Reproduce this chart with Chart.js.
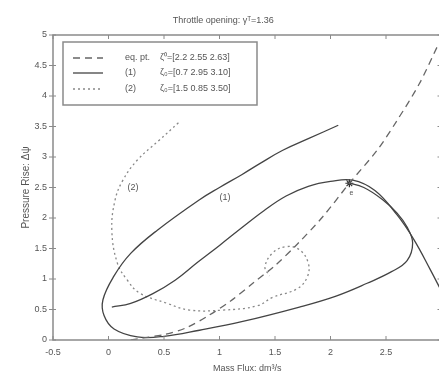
<!DOCTYPE html>
<html><head><meta charset="utf-8">
<script src="https://cdn.jsdelivr.net/npm/chart.js@4.4.0/dist/chart.umd.min.js"></script>
<style>html,body{margin:0;padding:0;overflow:hidden;background:#fff}#wrap{width:450px;height:374px}</style>
</head><body><div id="wrap"><canvas id="c" width="450" height="374"></canvas></div>
<script>
// ---- data ----
const xTickLabels = [-0.5, 0, 0.5, 1, 1.5, 2, 2.5];
const yTickLabels = [0, 0.5, 1, 1.5, 2, 2.5, 3, 3.5, 4, 4.5, 5];
const dashX = [0.2, 0.3, 0.5, 0.7, 0.9, 1.1, 1.3, 1.5, 1.7, 1.93, 2.17, 2.42, 2.6, 2.8, 2.97];
const dashY = [0.0, 0.03, 0.09, 0.2, 0.4, 0.64, 0.93, 1.22, 1.57, 2.02, 2.57, 3.11, 3.6, 4.2, 4.84];
const charX = [0.03, 0.2, 0.4, 0.6, 0.8, 1.0, 1.2, 1.4, 1.6, 1.8, 2.0, 2.2, 2.4, 2.6, 2.75, 2.9, 3.0];
const charY = [0.54, 0.6, 0.76, 0.98, 1.27, 1.55, 1.84, 2.12, 2.36, 2.52, 2.6, 2.62, 2.45, 2.05, 1.65, 1.15, 0.8];
const traj1X = [2.07, 1.8, 1.57, 1.37, 1.2, 1.0, 0.82, 0.44, 0.2, 0.05, -0.05, -0.04, 0.05, 0.26, 0.5, 0.82, 1.2, 1.72, 2.05, 2.33, 2.55, 2.69, 2.74, 2.69, 2.6, 2.47, 2.3, 2.15];
const traj1Y = [3.52, 3.3, 3.11, 2.9, 2.71, 2.5, 2.3, 1.8, 1.42, 1.05, 0.66, 0.4, 0.18, 0.05, 0.06, 0.16, 0.3, 0.54, 0.72, 0.93, 1.12, 1.3, 1.59, 1.85, 2.08, 2.3, 2.5, 2.58];
const traj2X = [0.63, 0.46, 0.26, 0.13, 0.06, 0.03, 0.08, 0.17, 0.28, 0.53, 0.73, 1.03, 1.34, 1.48, 1.7, 1.79, 1.8, 1.72, 1.6, 1.48, 1.41, 1.45];
const traj2Y = [3.56, 3.28, 2.95, 2.62, 2.3, 1.8, 1.26, 0.98, 0.77, 0.6, 0.49, 0.49, 0.56, 0.7, 0.84, 1.03, 1.26, 1.48, 1.53, 1.43, 1.2, 1.05];
const eqPoint = [2.17, 2.57];
const curveLabels = [{t: "(1)", x: 1.05, y: 2.33}, {t: "(2)", x: 0.22, y: 2.5}];
const legendLabels = ["eq. pt.", "(1)", "(2)"];
const legendValues = ["\u03B6\u2070=[2.2 2.55 2.63]", "\u03B6\u2080=[0.7 2.95 3.10]", "\u03B6\u2080=[1.5 0.85 3.50]"];

const pts = (xs, ys) => xs.map((x, i) => ({x, y: ys[i]}));
const FONT = "'Liberation Sans', Arial, sans-serif";
const TXT = '#555';

const deco = {
  id: 'deco',
  afterDraw(chart) {
    const ctx = chart.ctx, a = chart.chartArea, xs = chart.scales.x, ys = chart.scales.y;
    ctx.save();
    ctx.strokeStyle = '#8a8a8a'; ctx.lineWidth = 1.5;
    ctx.strokeRect(a.left, a.top, a.right - a.left, a.bottom - a.top);
    ctx.lineWidth = 1;
    xTickLabels.concat([3]).forEach(v => {
      const p = xs.getPixelForValue(v);
      ctx.beginPath(); ctx.moveTo(p, a.bottom); ctx.lineTo(p, a.bottom - 4);
      ctx.moveTo(p, a.top); ctx.lineTo(p, a.top + 4); ctx.stroke();
    });
    yTickLabels.forEach(v => {
      const p = ys.getPixelForValue(v);
      ctx.beginPath(); ctx.moveTo(a.left - 4, p); ctx.lineTo(a.left + 3, p);
      ctx.moveTo(a.right, p); ctx.lineTo(a.right - 4, p); ctx.stroke();
    });
    ctx.fillStyle = TXT; ctx.font = '9px ' + FONT; ctx.textAlign = 'center'; ctx.textBaseline = 'middle';
    curveLabels.forEach(l => ctx.fillText(l.t, xs.getPixelForValue(l.x), ys.getPixelForValue(l.y)));
    ctx.font = '7px ' + FONT;
    ctx.fillText('e', xs.getPixelForValue(eqPoint[0]) + 2, ys.getPixelForValue(eqPoint[1]) + 10);
    const lx = 63, ly = 42, lw = 194, lh = 63;
    ctx.fillStyle = '#fff'; ctx.fillRect(lx, ly, lw, lh);
    ctx.strokeStyle = '#8a8a8a'; ctx.lineWidth = 1.5; ctx.strokeRect(lx, ly, lw, lh);
    const rows = [58, 73, 89];
    const styles = [{d: [7, 5], c: '#666', w: 1.3}, {d: [], c: '#444', w: 1.3}, {d: [2, 3], c: '#888', w: 1.3}];
    rows.forEach((ry, i) => {
      ctx.setLineDash(styles[i].d); ctx.strokeStyle = styles[i].c; ctx.lineWidth = styles[i].w;
      ctx.beginPath(); ctx.moveTo(73, ry); ctx.lineTo(103, ry); ctx.stroke();
      ctx.setLineDash([]);
      ctx.fillStyle = TXT; ctx.font = '9px ' + FONT; ctx.textAlign = 'left';
      ctx.fillText(legendLabels[i], 125, ry);
      ctx.fillText(legendValues[i], 160, ry);
    });
    ctx.restore();
  }
};

new Chart(document.getElementById('c'), {
  type: 'scatter',
  data: {
    datasets: [
      {data: pts(dashX, dashY), showLine: true, borderColor: '#666', borderWidth: 1.3, borderDash: [7, 5], pointRadius: 0, tension: 0.3},
      {data: pts(charX, charY), showLine: true, borderColor: '#444', borderWidth: 1.3, pointRadius: 0, tension: 0.4},
      {data: pts(traj1X, traj1Y), showLine: true, borderColor: '#444', borderWidth: 1.3, pointRadius: 0, tension: 0.4},
      {data: pts(traj2X, traj2Y), showLine: true, borderColor: '#888', borderWidth: 1.3, borderDash: [2, 3], pointRadius: 0, tension: 0.4},
      {data: [{x: eqPoint[0], y: eqPoint[1]}], pointStyle: 'star', pointRadius: 4, borderColor: '#333', borderWidth: 1.2}
    ]
  },
  options: {
    responsive: false, animation: false, events: [],
    layout: {padding: {left: 5, right: 8.5, top: 0, bottom: 0}},
    plugins: {
      legend: {display: false}, tooltip: {enabled: false},
      title: {display: true, text: 'Throttle opening: \u03B3\u1D40=1.36', color: TXT,
        font: {family: FONT, size: 9, weight: 'normal', lineHeight: 1.2}, padding: {top: 15, bottom: 9.2}}
    },
    scales: {
      x: {type: 'linear', min: -0.5, max: 3,
        afterFit(s) { s.height = 34; },
        afterBuildTicks(s) { s.ticks = xTickLabels.concat([3]).map(v => ({value: v})); },
        ticks: {color: TXT, font: {family: FONT, size: 9}, padding: 7, maxRotation: 0, autoSkip: false,
          callback: v => xTickLabels.includes(v) ? String(v) : ''},
        grid: {display: true, drawOnChartArea: false, drawTicks: false}, border: {display: false},
        title: {display: true, text: 'Mass Flux: dm\u00B3/s', color: TXT, font: {family: FONT, size: 9}, padding: {top: 2, bottom: 0}}
      },
      y: {type: 'linear', min: 0, max: 5,
        afterFit(s) { s.width = 48; },
        afterBuildTicks(s) { s.ticks = yTickLabels.map(v => ({value: v})); },
        ticks: {color: TXT, font: {family: FONT, size: 9}, padding: 6, autoSkip: false, callback: v => String(v)},
        grid: {display: true, drawOnChartArea: false, drawTicks: false}, border: {display: false},
        title: {display: true, text: 'Pressure Rise: \u0394\u03C8', color: TXT, font: {family: FONT, size: 10}, padding: {top: 15, bottom: 0}}
      }
    }
  },
  plugins: [deco]
});
</script></body></html>
